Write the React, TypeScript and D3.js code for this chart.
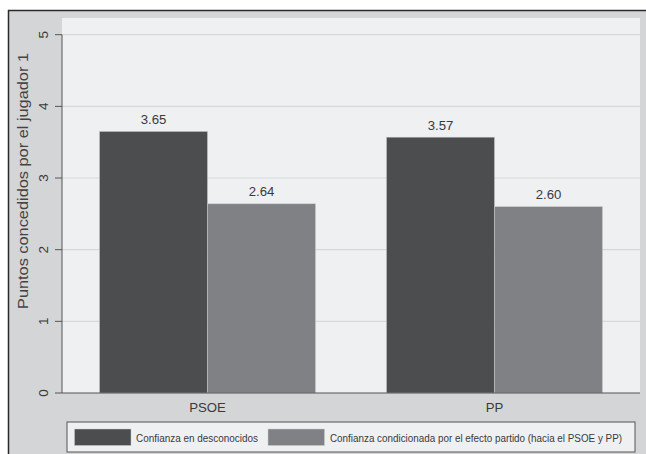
import React from "react";
import * as d3 from "d3";

const categories = ["PSOE", "PP"];
const seriesNames = [
  "Confianza en desconocidos",
  "Confianza condicionada por el efecto partido (hacia el PSOE y PP)",
];
const seriesColors = ["#4c4d4f", "#808184"];
const desconocidos = [3.65, 3.57];
const condicionada = [2.64, 2.6];
const yTicks = [0, 1, 2, 3, 4, 5];
const yTitle = "Puntos concedidos por el jugador 1";

const W = 646;
const H = 454;
const FONT = "'Liberation Sans', Arial, Helvetica, sans-serif";

export default function App() {
  const plot = { left: 62, right: 640, top: 18, bottom: 393 };
  const y = d3.scaleLinear().domain([0, 5]).range([393, 34.7]);
  const x = d3
    .scaleBand<string>()
    .domain(categories)
    .range([plot.left, plot.right])
    .paddingInner(0.2474)
    .paddingOuter(0.1307);
  const sub = d3
    .scaleBand<number>()
    .domain([0, 1])
    .range([0, x.bandwidth()]);
  const values = [desconocidos, condicionada];

  return (
    <svg
      width={W}
      height={H}
      style={{ position: "absolute", left: 0, top: 0, background: "#fff" }}
      fontFamily={FONT}
    >
      {/* outer frame */}
      <rect x={8} y={10} width={W - 8} height={H - 10} fill="#d4d5d7" />
      <line x1={8} x2={W} y1={10.5} y2={10.5} stroke="#2a2a2a" strokeWidth={1.5} />
      <line x1={8.5} x2={8.5} y1={10} y2={H} stroke="#2a2a2a" strokeWidth={1.5} />
      {/* plot area */}
      <rect
        x={plot.left}
        y={plot.top}
        width={plot.right - plot.left}
        height={plot.bottom - plot.top}
        fill="#eff0f2"
      />
      {/* gridlines */}
      {yTicks
        .filter((t) => t > 0)
        .map((t) => (
          <line
            key={"g" + t}
            x1={plot.left}
            x2={plot.right}
            y1={y(t)}
            y2={y(t)}
            stroke="#d6d7d9"
            strokeWidth={1.2}
          />
        ))}
      {/* bars */}
      {categories.map((c, ci) =>
        values.map((vals, si) => {
          const x0 = (x(c) as number) + (sub(si) as number);
          const v = vals[ci];
          return (
            <g key={c + si}>
              <rect
                x={x0}
                y={y(v)}
                width={sub.bandwidth()}
                height={y(0) - y(v)}
                fill={seriesColors[si]}
                stroke="#c8c9cb"
                strokeWidth={0.5}
              />
              <text
                x={x0 + sub.bandwidth() / 2}
                y={y(v) - 7.5}
                textAnchor="middle"
                fontSize={13.2}
                fill="#3a3a3a"
              >
                {v.toFixed(2)}
              </text>
            </g>
          );
        })
      )}
      {/* y axis */}
      <line x1={plot.left} x2={plot.left} y1={y(5)} y2={y(0)} stroke="#555" strokeWidth={1} />
      {yTicks.map((t) => (
        <g key={"t" + t}>
          <line x1={55} x2={plot.left} y1={y(t)} y2={y(t)} stroke="#555" strokeWidth={1} />
          <text
            transform={`translate(48,${y(t)}) rotate(-90)`}
            textAnchor="middle"
            fontSize={13.5}
            fill="#3a3a3a"
          >
            {t}
          </text>
        </g>
      ))}
      <text
        transform={`translate(28,181) rotate(-90)`}
        textAnchor="middle"
        fontSize={14}
        textLength={256}
        lengthAdjust="spacingAndGlyphs"
        fill="#444"
      >
        {yTitle}
      </text>
      {/* x axis */}
      <line x1={plot.left} x2={plot.right} y1={y(0)} y2={y(0)} stroke="#555" strokeWidth={1} />
      {categories.map((c) => (
        <text
          key={"x" + c}
          x={(x(c) as number) + x.bandwidth() / 2}
          y={411.5}
          textAnchor="middle"
          fontSize={13.2}
          fill="#3a3a3a"
        >
          {c}
        </text>
      ))}
      {/* legend */}
      <rect x={67} y={422} width={568} height={30} fill="#eff0f2" stroke="#555" strokeWidth={1} />
      {[
        { sx: 74.5, tx: 136, len: 122 },
        { sx: 268, tx: 330, len: 292 },
      ].map((p, i) => (
        <g key={"l" + i}>
          <rect x={p.sx} y={429} width={56.5} height={16.5} fill={seriesColors[i]} stroke="#c8c9cb" strokeWidth={0.5} />
          <text
            x={p.tx}
            y={441.5}
            fontSize={10}
            textLength={p.len}
            lengthAdjust="spacingAndGlyphs"
            fill="#3a3a3a"
          >
            {seriesNames[i]}
          </text>
        </g>
      ))}
    </svg>
  );
}
